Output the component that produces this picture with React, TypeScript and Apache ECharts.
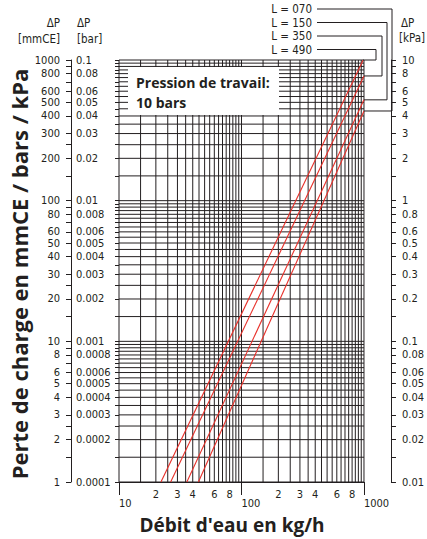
import React, { useEffect, useRef } from 'react';
import * as echarts from 'echarts';

// ---- axis ranges ----
const xMin = 10;
const xMax = 1000;
const yMin = 1;
const yMax = 1000;

// ---- grid subdivisions (per decade) ----
const gridSteps = [1, 1.5, 2, 2.5, 3, 3.5, 4, 4.5, 5, 5.5, 6, 6.5, 7, 7.5, 8, 8.5, 9, 9.5];
const xDecades = [10, 100];
const yDecades = [1, 10, 100];

// ---- side axis ticks & labels (per decade) ----
const sideTickSteps = [1, 1.5, 2, 2.5, 3, 4, 5, 6, 7, 8, 9];
const sideLabelSteps = [1, 2, 3, 4, 5, 6, 8];

// ---- x tick labels ----
const xMinorLabels = [20, 30, 40, 60, 80, 200, 300, 400, 600, 800];
const xDecadeLabels = [10, 100, 1000];

// ---- series (kg/h, mmCE) ----
const hoseNames = ['L = 070', 'L = 150', 'L = 350', 'L = 490'];
const hose070 = [[44.5, 1], [1000, 434]];
const hose150 = [[35.8, 1], [1000, 521]];
const hose350 = [[26.4, 1], [1000, 770]];
const hose490 = [[22, 1], [985, 1000]];
const hoseData = [hose070, hose150, hose350, hose490];

const NARROW = "'Liberation Sans Narrow', 'DejaVu Sans Condensed', 'Roboto', sans-serif";
const BOLD = "'Open Sans', Lato, sans-serif";
const INK = '#231f20';
const RED = '#e8302a';
const TICK_FS = 11;

const fmt = (v: number) => parseFloat(v.toPrecision(6)).toString();

const gridX = xDecades.flatMap((d) => gridSteps.map((s) => s * d)).concat([xMax]);
const gridY = yDecades.flatMap((d) => gridSteps.map((s) => s * d)).concat([yMax]);
const sideTicks = yDecades.flatMap((d) => sideTickSteps.map((s) => s * d)).concat([yMax]);
const sideLabels = yDecades.flatMap((d) => sideLabelSteps.map((s) => s * d)).concat([yMax]);

export default function App() {
  const ref = useRef<HTMLDivElement>(null);

  useEffect(() => {
    if (!ref.current) return;
    const chart = echarts.init(ref.current, undefined, { renderer: 'svg' });
    const labelBase = { fontSize: TICK_FS, lineHeight: 10, color: INK, fontFamily: NARROW };
    const lineStyle = { color: INK, width: 1 };

    const option: any = {
      animation: false,
      backgroundColor: '#fff',
      grid: { left: 119, top: 60, width: 250, height: 422 },
      xAxis: [
        {
          type: 'log', logBase: 10, min: xMin, max: xMax, position: 'bottom',
          axisLine: { show: true, onZero: false, lineStyle },
          axisTick: { show: true, customValues: xDecadeLabels, length: 13, lineStyle },
          minorTick: { show: false },
          splitLine: { show: false },
          axisLabel: { ...labelBase, customValues: xMinorLabels, formatter: (v: number) => String(v).charAt(0), margin: 7 },
        },
        {
          type: 'log', logBase: 10, min: xMin, max: xMax, position: 'bottom',
          axisLine: { show: false, onZero: false },
          axisTick: { show: false },
          splitLine: { show: false },
          axisLabel: { ...labelBase, customValues: xDecadeLabels, formatter: (v: number) => String(v), margin: 16, align: 'left' },
        },
      ],
      yAxis: [
        {
          type: 'log', logBase: 10, min: yMin, max: yMax, position: 'left',
          axisLine: { show: false, onZero: false },
          axisTick: { show: true, customValues: gridY, length: 4, lineStyle },
          axisLabel: { show: false },
          splitLine: { show: false },
        },
        {
          type: 'log', logBase: 10, min: yMin, max: yMax, position: 'left', offset: 48,
          axisLine: { show: true, onZero: false, lineStyle },
          axisTick: { show: true, customValues: sideTicks, length: 5, lineStyle },
          axisLabel: { ...labelBase, customValues: sideLabels, formatter: (v: number) => fmt(v), margin: 11 },
          splitLine: { show: false },
        },
        {
          type: 'log', logBase: 10, min: yMin, max: yMax, position: 'left', offset: 48,
          axisLine: { show: false, onZero: false },
          axisTick: { show: false },
          axisLabel: { ...labelBase, inside: true, customValues: sideLabels, formatter: (v: number) => fmt(v / 10000), margin: 5 },
          splitLine: { show: false },
        },
        {
          type: 'log', logBase: 10, min: yMin, max: yMax, position: 'right', offset: 27,
          axisLine: { show: true, onZero: false, lineStyle },
          axisTick: { show: true, customValues: sideTicks, length: 5, lineStyle },
          axisLabel: { ...labelBase, customValues: sideLabels, formatter: (v: number) => fmt(v / 100), margin: 11 },
          splitLine: { show: false },
        },
      ],
      series: [
        {
          type: 'custom', name: 'vgrid', xAxisIndex: 0, yAxisIndex: 0, z: 1, silent: true,
          encode: { x: 0, y: 1 },
          data: gridX.map((v) => [v, yMin]),
          renderItem: (params: any, api: any) => {
            const cs = params.coordSys;
            const x = api.coord([api.value(0), yMin])[0];
            return { type: 'line', shape: { x1: x, y1: cs.y, x2: x, y2: cs.y + cs.height }, style: { stroke: INK, lineWidth: 1 } };
          },
        },
        {
          type: 'custom', name: 'hgrid', xAxisIndex: 0, yAxisIndex: 0, z: 1, silent: true,
          encode: { x: 0, y: 1 },
          data: gridY.map((v) => [xMin, v]),
          renderItem: (params: any, api: any) => {
            const cs = params.coordSys;
            const y = api.coord([xMin, api.value(1)])[1];
            return { type: 'line', shape: { x1: cs.x, y1: y, x2: cs.x + cs.width, y2: y }, style: { stroke: INK, lineWidth: 1 } };
          },
        },
        ...hoseData.map((d, i) => ({
          type: 'line', name: hoseNames[i], xAxisIndex: 0, yAxisIndex: 0, z: 3,
          data: d, showSymbol: false, symbol: 'none',
          lineStyle: { color: RED, width: 1.1 },
        })),
      ],
    };
    chart.setOption(option);

    // leader lines from labels to line ends
    const labelY = [9, 22.5, 36, 49.5];
    const leaderX = [392, 387, 382, 376];
    const graphics: any[] = [];
    hoseData.forEach((d, i) => {
      const end = d[d.length - 1];
      const p = chart.convertToPixel({ xAxisIndex: 0, yAxisIndex: 0 }, end) as number[];
      graphics.push({
        type: 'polyline', z: 20, silent: true,
        shape: { points: [[317, labelY[i]], [leaderX[i], labelY[i]], [leaderX[i], p[1]], [p[0], p[1]]] },
        style: { stroke: INK, lineWidth: 1, fill: 'none' },
      });
      graphics.push({
        type: 'text', z: 20, x: 312, y: labelY[i],
        style: { text: hoseNames[i], font: `${TICK_FS + 0.5}px ${NARROW}`, fill: INK, align: 'right', verticalAlign: 'middle', textAlign: 'right', textVerticalAlign: 'middle' },
      });
    });

    const txt = (text: string, x: number, y: number, align: string, font: string, extra: any = {}) => ({
      type: 'text', z: 20, x, y, ...extra,
      style: { text, font, fill: INK, align, verticalAlign: 'middle', textAlign: align, textVerticalAlign: 'middle' },
    });

    graphics.push(
      { type: 'rect', z: 15, silent: true, shape: { x: 128, y: 67, width: 151, height: 48 }, style: { fill: '#fff' } },
      txt('Pression de travail:', 136, 82, 'left', `bold 14px ${BOLD}`),
      txt('10 bars', 136, 102, 'left', `bold 14px ${BOLD}`),
      txt('Perte de charge en mmCE / bars / kPa', 19, 274, 'center', `bold 22px ${BOLD}`, { rotation: Math.PI / 2 }),
      txt("Débit d'eau en kg/h", 232, 525, 'center', `bold 19px ${BOLD}`),
      txt('ΔP', 60, 22.5, 'right', `${TICK_FS + 0.5}px ${NARROW}`),
      txt('[mmCE]', 60, 38.5, 'right', `${TICK_FS + 0.5}px ${NARROW}`),
      txt('ΔP', 77, 22.5, 'left', `${TICK_FS + 0.5}px ${NARROW}`),
      txt('[bar]', 77, 38.5, 'left', `${TICK_FS + 0.5}px ${NARROW}`),
      txt('ΔP', 401, 22.5, 'left', `${TICK_FS + 0.5}px ${NARROW}`),
      txt('[kPa]', 399, 37.5, 'left', `${TICK_FS + 0.5}px ${NARROW}`),
    );
    chart.setOption({ graphic: graphics });

    return () => chart.dispose();
  }, []);

  return <div ref={ref} style={{ position: 'fixed', left: 0, top: 0, width: 427, height: 539 }} />;
}
